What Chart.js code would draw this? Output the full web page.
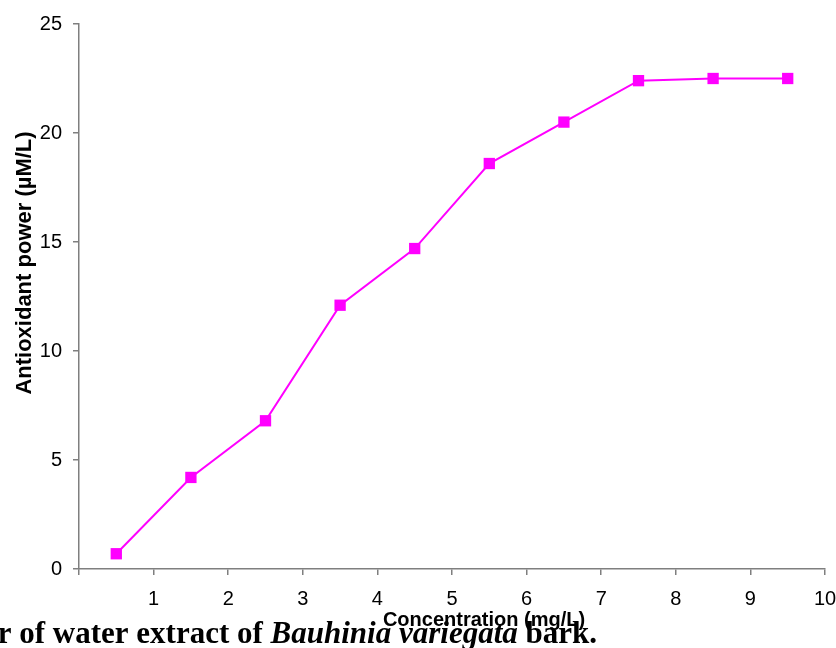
<!DOCTYPE html>
<html>
<head>
<meta charset="utf-8">
<script src="https://cdn.jsdelivr.net/npm/chart.js"></script>
<style>
  html, body { margin: 0; padding: 0; background: #fff; }
  #wrap { width: 836px; height: 648px; }
</style>
</head>
<body>
<div id="wrap"><canvas id="chart" width="836" height="648"></canvas></div>
<script>
// values
const concentrations = [0.5, 1.5, 2.5, 3.5, 4.5, 5.5, 6.5, 7.5, 8.5, 9.5];
const antioxidantPower = [0.7, 4.2, 6.8, 12.1, 14.7, 18.6, 20.5, 22.4, 22.5, 22.5];
const xTicks = [1, 2, 3, 4, 5, 6, 7, 8, 9, 10];
const yTicks = [0, 5, 10, 15, 20, 25];

const xTitle = 'Concentration (mg/L)';
const yTitle = 'Antioxidant power (\u00B5M/L)';
const captionParts = [
    { text: 'r of water extract of ', italic: false },
    { text: 'Bauhinia variegata', italic: true },
    { text: ' bark.', italic: false }
];

const axisGrey = '#7f7f7f';
const sans = '"Liberation Sans", Arial, sans-serif';

// axis titles and the cut-off figure caption underneath
const textPlugin = {
    id: 'extraText',
    afterDraw(chart) {
        const ctx = chart.ctx;
        ctx.save();
        ctx.fillStyle = '#000';
        ctx.textBaseline = 'alphabetic';

        // x axis title
        ctx.font = 'bold 20px ' + sans;
        ctx.textAlign = 'center';
        ctx.fillText(xTitle, 484, 626);

        // y axis title (sits a bit above the middle, as in the original)
        ctx.save();
        ctx.translate(31, 263);
        ctx.rotate(-Math.PI / 2);
        ctx.font = 'bold 22px ' + sans;
        ctx.fillText(yTitle, 0, 0);
        ctx.restore();

        // caption, right end at x = 597
        ctx.textAlign = 'left';
        const fontOf = p => (p.italic ? 'italic ' : '') + 'bold 31px "Liberation Serif", "Times New Roman", serif';
        let total = 0;
        captionParts.forEach(p => { ctx.font = fontOf(p); total += ctx.measureText(p.text).width; });
        let x = 597 - total;
        captionParts.forEach(p => {
            ctx.font = fontOf(p);
            ctx.fillText(p.text, x, 643);
            x += ctx.measureText(p.text).width;
        });
        ctx.restore();
    }
};

new Chart(document.getElementById('chart'), {
    type: 'line',
    data: {
        datasets: [{
            data: concentrations.map((c, i) => ({ x: c, y: antioxidantPower[i] })),
            borderColor: '#ff00ff',
            backgroundColor: '#ff00ff',
            borderWidth: 2,
            pointStyle: 'rect',
            pointRadius: 8,
            pointHoverRadius: 8,
            pointBorderWidth: 0,
            tension: 0
        }]
    },
    options: {
        responsive: false,
        animation: false,
        layout: { padding: { top: 24, right: 0, bottom: 0, left: 8 } },
        plugins: {
            legend: { display: false },
            tooltip: { enabled: false }
        },
        scales: {
            x: {
                type: 'linear',
                min: 0,
                max: 10,
                afterBuildTicks: axis => { axis.ticks = [0].concat(xTicks).map(v => ({ value: v })); },
                afterFit: s => { s.height = 79; s.paddingRight = 11; s.paddingLeft = 0; },
                ticks: {
                    color: '#000',
                    font: { size: 20, family: sans },
                    padding: 12,
                    maxRotation: 0,
                    autoSkip: false,
                    callback: v => (v === 0 ? '' : v)
                },
                grid: { drawOnChartArea: false, drawTicks: true, tickLength: 6, color: axisGrey, lineWidth: 1.5 },
                border: { color: axisGrey, width: 1.5 }
            },
            y: {
                min: 0,
                max: 25,
                afterBuildTicks: axis => { axis.ticks = yTicks.map(v => ({ value: v })); },
                afterFit: s => { s.width = 71; s.paddingTop = 0; s.paddingBottom = 0; },
                ticks: {
                    color: '#000',
                    font: { size: 20, family: sans },
                    padding: 11
                },
                grid: { drawOnChartArea: false, drawTicks: true, tickLength: 6, color: axisGrey, lineWidth: 1.5 },
                border: { color: axisGrey, width: 1.5 }
            }
        }
    },
    plugins: [textPlugin]
});
</script>
</body>
</html>
